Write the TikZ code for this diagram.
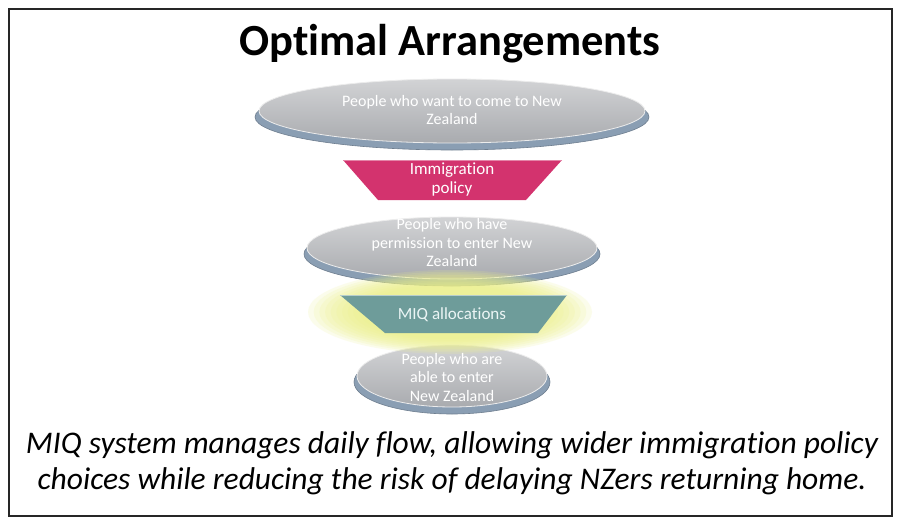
\documentclass[tikz,border=0pt]{standalone}
\usepackage{fontspec}
\setmainfont{Carlito}[Ligatures=NoCommon]
\usetikzlibrary{shapes.geometric}
\definecolor{discTop}{HTML}{D2D3D5}
\definecolor{discBot}{HTML}{A9ABAF}
\definecolor{rimCol}{HTML}{8A9EB3}
\definecolor{pinkCol}{HTML}{D3336E}
\definecolor{tealCol}{HTML}{6E9C9A}
\definecolor{glowCol}{HTML}{ECF188}
\tikzset{
  disctext/.style={text=white, font=\fontsize{16}{18.5}\selectfont, align=center},
  traptext/.style={text=white, font=\fontsize{17}{19}\selectfont, align=center},
  rim/.style={fill=rimCol, draw=rimCol!80!black, line width=0.6pt},
  disc/.style={top color=discTop, bottom color=discBot, draw=white!85!gray, line width=0.8pt},
}
\begin{document}
\begin{tikzpicture}[x=1pt,y=-1pt]
\useasboundingbox (0,0) rectangle (900,525);
\fill[white] (0,0) rectangle (900,525);
\draw[line width=2pt, black!85] (9,9) rectangle (892,516);
\node[font=\bfseries\fontsize{44.5}{48}\selectfont] (title) at (450,44) {Optimal Arrangements};
% top disc
\fill[rim] (452,117) ellipse (197 and 33);
\shade[disc] (452,111) ellipse (193 and 32);
% pink trapezoid
\fill[pinkCol] (343,160) -- (562,160) -- (526,200) -- (378,200) -- cycle;
\draw[pinkCol!60!white, line width=1pt] (343,160) -- (562,160);
% middle disc
\fill[rim] (452,254) ellipse (148 and 32);
\shade[disc] (452,248) ellipse (145 and 31);
% bottom disc
\fill[rim] (452,382) ellipse (98 and 32);
\shade[disc] (452,376) ellipse (95 and 31);
% glow
\foreach \r in {1.0,0.96,0.92,0.88,0.84,0.80,0.76,0.72,0.68,0.64}{
  \fill[glowCol, opacity=0.16] (450,312) ellipse ({142*\r} and {42*\r});
}
% teal trapezoid
\fill[tealCol] (340,295) -- (567,295) -- (538,333) -- (385,333) -- cycle;
\draw[tealCol!50!white, line width=1pt] (340,295) -- (567,295);
% texts
\node[disctext] (want) at (452,110) {People who want to come to New\\Zealand};
\node[traptext] (immig) at (452,180) {Immigration\\policy};
\node[disctext] (perm) at (452,243) {People who have\\permission to enter New\\Zealand};
\node[traptext, text=white!92!teal] (miq) at (452,315) {MIQ allocations};
\node[disctext] (able) at (452,377) {People who are\\able to enter\\New Zealand};
\node[font=\itshape\fontsize{31.5}{36}\selectfont, align=center] (caption) at (452,463)
  {MIQ system manages daily flow, allowing wider immigration policy\\choices while reducing the risk of delaying NZers returning home.};
\end{tikzpicture}
\end{document}
